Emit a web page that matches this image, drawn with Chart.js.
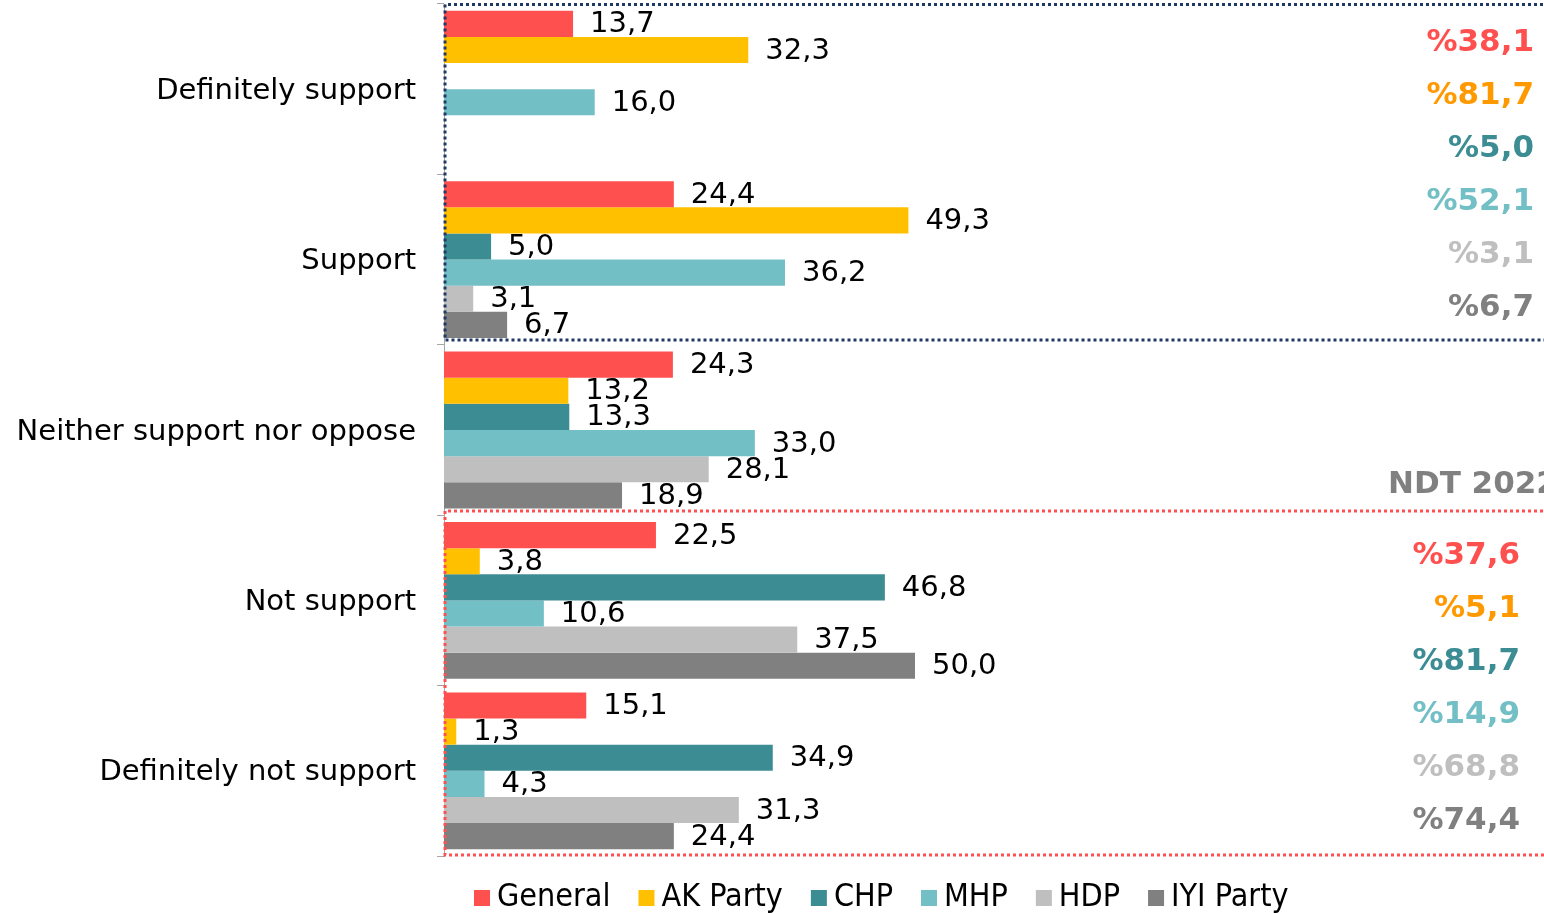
<!DOCTYPE html>
<html>
<head>
<meta charset="utf-8">
<script src="https://cdn.jsdelivr.net/npm/chart.js@4.4.0/dist/chart.umd.min.js"></script>
<style>
  body { margin: 0; background: #fff; }
  canvas { display: block; }
</style>
</head>
<body>
<canvas id="myChart" width="1544" height="913"></canvas>
<script>
const categories = ['Definitely support', 'Support', 'Neither support nor oppose', 'Not support', 'Definitely not support'];
const parties = ['General', 'AK Party', 'CHP', 'MHP', 'HDP', 'IYI Party'];
const general = [13.7, 24.4, 24.3, 22.5, 15.1];
const akParty = [32.3, 49.3, 13.2, 3.8, 1.3];
const chp = [0, 5.0, 13.3, 46.8, 34.9];
const mhp = [16.0, 36.2, 33.0, 10.6, 4.3];
const hdp = [0, 3.1, 28.1, 37.5, 31.3];
const iyi = [0, 6.7, 18.9, 50.0, 24.4];
const supportTotals = [38.1, 81.7, 5.0, 52.1, 3.1, 6.7];
const opposeTotals = [37.6, 5.1, 81.7, 14.9, 68.8, 74.4];
const sideTitle = 'NDT 2022';

const barColors = ['#FF5050', '#FFC000', '#3C8C93', '#72BFC5', '#BFBFBF', '#808080'];
const totalColors = ['#FF5050', '#FF9900', '#3C8C93', '#72BFC5', '#BFBFBF', '#808080'];
const FONT = '"DejaVu Sans", Verdana, sans-serif';

const fmt = v => v.toFixed(1).replace('.', ',');

const series = [general, akParty, chp, mhp, hdp, iyi];

// value labels next to each bar
const valueLabels = {
  id: 'valueLabels',
  afterDatasetsDraw(chart) {
    const ctx = chart.ctx;
    ctx.save();
    ctx.font = '29px ' + FONT;
    ctx.fillStyle = '#000';
    ctx.textAlign = 'left';
    ctx.textBaseline = 'middle';
    chart.data.datasets.forEach((ds, i) => {
      chart.getDatasetMeta(i).data.forEach((bar, j) => {
        const v = ds.data[j];
        if (!v) return;
        ctx.fillText(fmt(v), bar.x + 17, bar.y + 1);
      });
    });
    ctx.restore();
  }
};

// dotted boxes, side totals and the legend
const extras = {
  id: 'extras',
  afterDraw(chart) {
    const ctx = chart.ctx;
    const a = chart.chartArea;
    const W = chart.width;
    ctx.save();

    function box(top, bottom, color) {
      ctx.strokeStyle = color;
      ctx.lineWidth = 3;
      ctx.setLineDash([3, 3]);
      ctx.beginPath();
      ctx.moveTo(W + 5, top);
      ctx.lineTo(a.left + 1, top);
      ctx.lineTo(a.left + 1, bottom);
      ctx.lineTo(W + 5, bottom);
      ctx.stroke();
    }
    box(a.top + 0.5, a.top + 336, '#203864');
    box(a.top + 507, a.bottom - 1, '#FF5050');
    ctx.setLineDash([]);

    ctx.font = 'bold 31px ' + FONT;
    ctx.textBaseline = 'middle';
    ctx.textAlign = 'right';
    supportTotals.forEach((v, i) => {
      ctx.fillStyle = totalColors[i];
      ctx.fillText('%' + fmt(v), 1534, a.top + 39 + i * 53);
    });
    opposeTotals.forEach((v, i) => {
      ctx.fillStyle = totalColors[i];
      ctx.fillText('%' + fmt(v), 1520, a.top + 552 + i * 53);
    });
    ctx.textAlign = 'left';
    ctx.fillStyle = '#808080';
    ctx.fillText(sideTitle, 1388, a.top + 481);

    // legend
    ctx.font = '32px "DejaVu Sans Condensed", ' + FONT;
    ctx.textBaseline = 'middle';
    let x = 474;
    const y = 898;
    parties.forEach((p, i) => {
      ctx.fillStyle = barColors[i];
      ctx.fillRect(x, y - 8, 16, 16);
      ctx.fillStyle = '#000';
      ctx.fillText(p, x + 23, y);
      x += 23 + ctx.measureText(p).width + 28;
    });
    ctx.restore();
  }
};

const ctx = document.getElementById('myChart').getContext('2d');
const chart = new Chart(ctx, {
  type: 'bar',
  data: {
    labels: categories,
    datasets: parties.map((p, i) => ({
      label: p,
      data: series[i],
      backgroundColor: barColors[i],
      borderWidth: 0,
      barPercentage: 1,
      categoryPercentage: 0.92
    }))
  },
  options: {
    indexAxis: 'y',
    responsive: false,
    animation: false,
    layout: { padding: { top: 4, bottom: 57, left: 0, right: 158 } },
    plugins: {
      legend: { display: false },
      tooltip: { enabled: false }
    },
    scales: {
      x: { display: false, min: 0, max: 100 },
      y: {
        afterFit(scale) {
          scale.width = 444;
          scale.paddingTop = 0;
          scale.paddingBottom = 0;
        },
        grid: { drawOnChartArea: false, tickLength: 7, color: '#A6A6A6', offset: true },
        border: { color: '#A6A6A6', width: 1 },
        ticks: { padding: 21, labelOffset: 2, color: '#000', font: { family: FONT, size: 29 } }
      }
    }
  },
  plugins: [valueLabels, extras]
});
</script>
</body>
</html>
